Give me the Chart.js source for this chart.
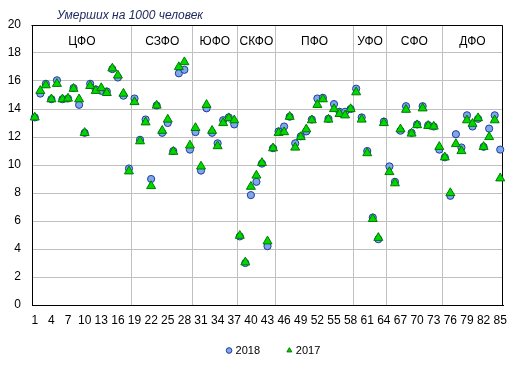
<!DOCTYPE html>
<html><head><meta charset="utf-8">
<script src="https://cdn.jsdelivr.net/npm/chart.js@4/dist/chart.umd.min.js"></script>
<style>html,body{margin:0;padding:0;background:#fff}</style>
</head><body>
<canvas id="c" width="519" height="370"></canvas>
<script>
const categories = ['1','2','3','4','5','6','7','8','9','10','11','12','13','14','15','16','17','18','19','20',
'21','22','23','24','25','26','27','28','29','30','31','32','33','34','35','36','37','38','39','40',
'41','42','43','44','45','46','47','48','49','50','51','52','53','54','55','56','57','58','59','60',
'61','62','63','64','65','66','67','68','69','70','71','72','73','74','75','76','77','78','79','80',
'81','82','83','84','85'];
const tickLabels = ['1','4','7','10','13','16','19','22','25','28','31','34','37','40','43','46','49','52','55','58','61','64','67','70','73','76','79','82','85'];

const values2018 = [13.4,15.1,15.8,14.7,16.05,14.7,14.75,15.5,14.3,12.3,15.8,15.4,15.3,15.25,16.85,16.25,14.95,9.75,
14.75,11.8,13.25,9.0,14.25,12.3,13.0,11.0,16.55,16.8,11.1,
12.35,9.6,14.05,12.3,11.55,13.2,13.4,12.9,
4.9,3.0,7.85,8.8,10.1,4.2,11.2,
12.4,12.75,13.45,11.55,12.05,12.4,13.25,14.75,14.8,13.3,14.35,13.8,13.8,14.0,
15.45,13.4,11.0,6.25,4.7,13.1,
9.9,8.8,12.45,14.2,12.3,12.9,14.2,12.85,12.75,11.1,
10.55,7.8,12.2,11.25,13.55,12.75,13.3,11.3,12.6,13.55,11.1];

const values2017 = [13.4,15.3,15.7,14.7,15.8,14.7,14.75,15.45,14.7,12.3,15.65,15.3,15.5,15.15,16.9,16.4,15.1,9.55,
14.5,11.7,13.05,8.5,14.25,12.45,13.25,10.95,17.0,17.35,11.4,
12.65,9.9,14.3,12.45,11.35,13.0,13.35,13.2,
4.95,3.05,8.45,9.25,10.15,4.55,11.2,
12.3,12.35,13.45,11.25,12.0,12.55,13.2,14.3,14.7,13.25,14.0,13.65,13.55,14.0,
15.2,13.25,10.85,6.15,4.8,13.0,
9.5,8.7,12.55,13.95,12.25,12.85,14.05,12.8,12.75,11.3,
10.55,8.0,11.5,11.0,13.2,12.95,13.35,11.3,12.0,13.2,9.05];

const districtNames = ['ЦФО','СЗФО','ЮФО','СКФО','ПФО','УФО','СФО','ДФО'];
const districtFirst = [1,19,30,38,45,59,65,75];
const districtLast  = [18,29,37,44,58,64,74,85];
const yTicks = [0,2,4,6,8,10,12,14,16,18,20];
const titleText = 'Умерших на 1000 человек';
const seriesNames = ['2018','2017'];

const FONT = "'Liberation Sans', Arial, sans-serif";
const separatorIdx = districtLast.slice(0, -1);

const overlay = {
  id: 'overlay',
  afterLayout(chart) {
    chart.legend.left += 6.7; chart.legend.right += 6.7;
  },
  beforeDatasetsDraw(chart) {
    const {ctx, chartArea: a, scales: {x, y}} = chart;
    ctx.save();
    ctx.strokeStyle = '#000'; ctx.lineWidth = 1;
    ctx.beginPath();
    ctx.moveTo(Math.round(a.left) - 0.5, Math.round(a.top) + 0.5);
    ctx.lineTo(Math.round(a.right) - 0.5, Math.round(a.top) + 0.5);
    ctx.lineTo(Math.round(a.right) - 0.5, Math.round(a.bottom) + 0.5);
    ctx.stroke();
    ctx.fillStyle = '#000';
    ctx.font = '12px ' + FONT;
    ctx.textAlign = 'center'; ctx.textBaseline = 'middle';
    districtNames.forEach((n, i) => {
      const px = (x.getPixelForValue(districtFirst[i] - 1) + x.getPixelForValue(districtLast[i] - 1)) / 2;
      ctx.fillText(n, px, y.getPixelForValue(18.8));
    });
    ctx.font = 'italic 12px ' + FONT;
    ctx.fillStyle = '#1F2A60';
    ctx.textAlign = 'left';
    ctx.fillText(titleText, 57, 16);
    ctx.restore();
  }
};

new Chart(document.getElementById('c'), {
  type: 'line',
  data: {
    labels: categories,
    datasets: [
      { label: seriesNames[0], data: values2018, showLine: false, order: 2,
        pointStyle: 'circle', pointRadius: 3.6, pointBorderWidth: 1,
        backgroundColor: '#7EA8E8', borderColor: '#1F3A9E' },
      { label: seriesNames[1], data: values2017, showLine: false, order: 1,
        pointStyle: 'triangle', pointRadius: 5.2, pointBorderWidth: 1,
        backgroundColor: '#00D800', borderColor: '#007A00' }
    ]
  },
  options: {
    responsive: false, animation: false,
    layout: { padding: { top: 25, right: 16, bottom: 4, left: 0 } },
    scales: {
      x: {
        type: 'category', offset: true,
        grid: { offset: true, drawTicks: false, lineWidth: 1,
          color: c => separatorIdx.includes(c.index) ? '#C0C0C0' : 'rgba(0,0,0,0)' },
        border: { color: '#000', width: 1 },
        ticks: { autoSkip: false, maxRotation: 0, minRotation: 0, padding: 8, color: '#000',
          font: { family: FONT, size: 12 },
          callback: function (v) { const l = this.getLabelForValue(v); return tickLabels.includes(l) ? l : ''; } },
        afterFit: s => { s.height = 30; }
      },
      y: {
        min: yTicks[0], max: yTicks[yTicks.length - 1],
        afterBuildTicks: s => { s.ticks = yTicks.map(v => ({ value: v })); },
        grid: { color: '#C0C0C0', drawTicks: false, lineWidth: 1 },
        border: { color: '#000', width: 1 },
        ticks: { padding: 11, color: '#000', font: { family: FONT, size: 12 } },
        afterFit: s => { s.width = 32; }
      }
    },
    plugins: {
      legend: { position: 'bottom', fullSize: false,
        labels: { usePointStyle: true, boxWidth: 2, boxHeight: 4, padding: 10, color: '#000',
          font: { family: FONT, size: 11 },
          generateLabels: chart => {
            const items = Chart.defaults.plugins.legend.labels.generateLabels(chart);
            items.forEach(it => { if (it.datasetIndex === 0) it.text = it.text + '      '; });
            return items;
          },
          sort: (a, b) => a.datasetIndex - b.datasetIndex } },
      tooltip: { enabled: false }
    }
  },
  plugins: [overlay]
});
</script>
</body></html>
